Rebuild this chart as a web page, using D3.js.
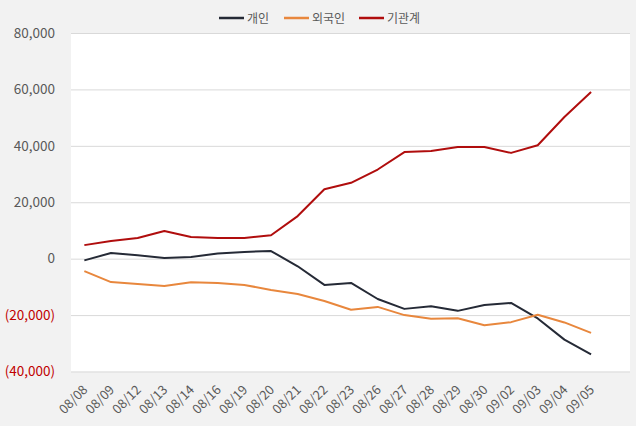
<!DOCTYPE html>
<html><head><meta charset="utf-8">
<script src="https://cdn.jsdelivr.net/npm/d3@7"></script>
<style>
html,body{margin:0;padding:0;background:#f2f2f2;}
text{font-family:"Noto Sans CJK KR","Noto Sans",sans-serif;}
</style></head>
<body>
<svg id="c" width="636" height="426"></svg>
<script>
const categories = ["08/08","08/09","08/12","08/13","08/14","08/16","08/19","08/20","08/21","08/22","08/23","08/26","08/27","08/28","08/29","08/30","09/02","09/03","09/04","09/05"];
const individual = [-600,2000,1200,200,600,1800,2400,2700,-2700,-9300,-8600,-14300,-17800,-16900,-18500,-16400,-15700,-21200,-28700,-33900];
const foreign = [-4400,-8300,-9000,-9700,-8400,-8600,-9300,-11100,-12500,-15000,-18100,-17100,-20000,-21300,-21100,-23600,-22500,-19900,-22600,-26300];
const institution = [4800,6300,7300,9800,7700,7300,7300,8300,15100,24600,26900,31600,37800,38200,39600,39600,37500,40200,50200,59100];
const yTicks = [80000,60000,40000,20000,0,-20000,-40000];
const seriesNames = ["개인","외국인","기관계"];
const seriesColors = ["#252a36","#e8873d","#b00d0d"];
const seriesData = [individual, foreign, institution];

const svg = d3.select("#c");
const L = 71, R = 630, T = 33, B = 371.5;
const x = d3.scaleBand().domain(categories).range([L, L + 26.67*20]).padding(0);
const y = d3.scaleLinear().domain([-40000, 80000]).range([B, T]);

svg.append("rect").attr("x", L).attr("y", T).attr("width", R - L).attr("height", B - T).attr("fill", "#ffffff");

const fmt = d3.format(",");
const yAxis = d3.axisLeft(y).tickValues(yTicks).tickSize(-(R - L)).tickFormat(d => d < 0 ? "(" + fmt(-d) + ")" : fmt(d));
const ga = svg.append("g").attr("transform", `translate(${L},0)`).call(yAxis);
ga.select(".domain").remove();
ga.selectAll(".tick line").attr("stroke", "#d9d9d9").attr("stroke-width", 1);
ga.selectAll(".tick text").attr("x", -16).attr("font-size", 13.5).attr("fill", d => d < 0 ? "#c00000" : "#595959");

const xAxis = d3.axisBottom(x).tickSize(0);
const gx = svg.append("g").attr("transform", `translate(0,${B})`).call(xAxis);
gx.select(".domain").remove();
gx.selectAll(".tick text").attr("font-size", 13).attr("fill", "#595959")
  .attr("text-anchor", "end").attr("dy", 0).attr("dx", 0)
  .attr("transform", "translate(2,17) rotate(-45)");

const line = d3.line().x((d, i) => x(categories[i]) + x.bandwidth()/2).y(d => y(d));
seriesData.forEach((s, k) => {
  svg.append("path").datum(s).attr("d", line).attr("fill", "none")
    .attr("stroke", seriesColors[k]).attr("stroke-width", 2).attr("stroke-linejoin", "round");
});

const legX = [219, 284, 359];
seriesNames.forEach((n, k) => {
  const g = svg.append("g").attr("transform", `translate(${legX[k]},18)`);
  g.append("line").attr("x1", 0).attr("x2", 25).attr("y1", 0).attr("y2", 0).attr("stroke", seriesColors[k]).attr("stroke-width", 2.5);
  g.append("text").attr("x", 28).attr("y", 4.5).attr("font-size", 12).attr("fill", "#595959").text(n);
});
</script>
</body></html>
